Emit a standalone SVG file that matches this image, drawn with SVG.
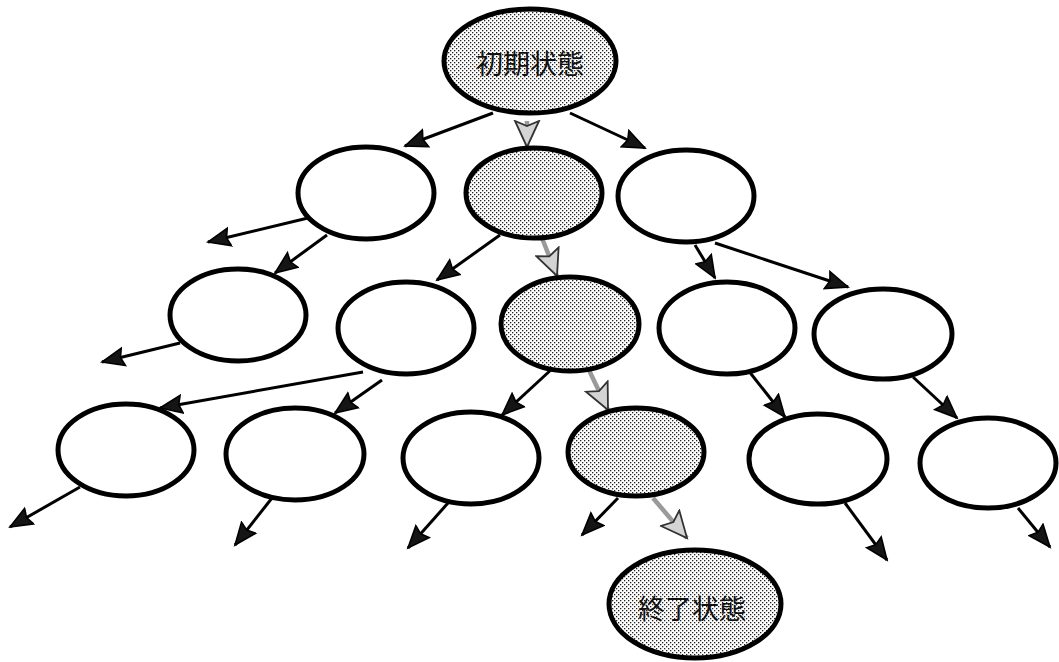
<svg xmlns="http://www.w3.org/2000/svg" width="1059" height="662" viewBox="0 0 1059 662">
  <defs>
    <!-- dotted screen used for the highlighted states -->
    <pattern id="dots" width="4" height="4" patternUnits="userSpaceOnUse">
      <rect width="4" height="4" fill="#ffffff"/>
      <rect x="0" y="0" width="1.3" height="1.3" fill="#222"/>
      <rect x="2" y="2" width="1.3" height="1.3" fill="#222"/>
    </pattern>
    <marker id="head" markerUnits="userSpaceOnUse" markerWidth="26" markerHeight="24" refX="23" refY="11" orient="auto">
      <path d="M1,2 L23,11 L1,20 L4,11 z" fill="#151515" stroke="#000" stroke-width="1.6"/>
    </marker>
    <marker id="headHi" markerUnits="userSpaceOnUse" markerWidth="30" markerHeight="30" refX="27" refY="14" orient="auto">
      <path d="M1,2 L27,14 L1,26 L6,14 z" fill="#d4d4d4" stroke="#333" stroke-width="1.8"/>
    </marker>
  </defs>
  <style>
    .state { fill: #ffffff; stroke: #000; stroke-width: 5; }
    .state.hi { fill: url(#dots); }
    .edge { stroke: #000; stroke-width: 3; fill: none; marker-end: url(#head); }
    .edge.hi { stroke: #9a9a9a; stroke-width: 4.5; marker-end: url(#headHi); }
    .label { font-family: "Noto Sans CJK JP", "Noto Sans CJK SC", sans-serif; font-size: 27px; fill: #111; text-anchor: middle; dominant-baseline: central; }
  </style>

  <rect width="1059" height="662" fill="#ffffff"/>

  <!-- connectors -->
  <g id="connectors">
    <line class="edge" x1="493" y1="113" x2="405" y2="146"/>
    <line class="edge" x1="570" y1="113" x2="645" y2="148"/>
    <line class="edge" x1="308" y1="218" x2="208" y2="242"/>
    <line class="edge" x1="327" y1="235" x2="275" y2="273"/>
    <line class="edge" x1="500" y1="235" x2="437" y2="280"/>
    <line class="edge" x1="695" y1="245" x2="715" y2="278"/>
    <line class="edge" x1="715" y1="243" x2="848" y2="287"/>
    <line class="edge" x1="180" y1="343" x2="102" y2="362"/>
    <line class="edge" x1="363" y1="372" x2="160" y2="408"/>
    <line class="edge" x1="382" y1="380" x2="335" y2="413"/>
    <line class="edge" x1="553" y1="368" x2="502" y2="415"/>
    <line class="edge" x1="748" y1="370" x2="785" y2="417"/>
    <line class="edge" x1="913" y1="377" x2="957" y2="418"/>
    <line class="edge" x1="80" y1="487" x2="10" y2="527"/>
    <line class="edge" x1="272" y1="498" x2="235" y2="545"/>
    <line class="edge" x1="448" y1="503" x2="408" y2="548"/>
    <line class="edge" x1="618" y1="498" x2="582" y2="535"/>
    <line class="edge" x1="845" y1="503" x2="887" y2="560"/>
    <line class="edge" x1="1018" y1="508" x2="1050" y2="547"/>
    <!-- solution path -->
    <line class="edge hi" x1="527" y1="121" x2="527" y2="147"/>
    <line class="edge hi" x1="542" y1="238" x2="557" y2="276"/>
    <line class="edge hi" x1="588" y1="368" x2="608" y2="410"/>
    <line class="edge hi" x1="653" y1="498" x2="687" y2="538"/>
  </g>

  <!-- states -->
  <g id="start">
    <ellipse class="state hi" cx="530" cy="61" rx="86" ry="52"/>
    <text class="label" x="530" y="62">初期状態</text>
  </g>
  <g id="s1a"><ellipse class="state" cx="366" cy="193" rx="68" ry="46"/></g>
  <g id="s1b"><ellipse class="state hi" cx="534" cy="193" rx="68" ry="45"/></g>
  <g id="s1c"><ellipse class="state" cx="686" cy="196" rx="68" ry="46"/></g>

  <g id="s2a"><ellipse class="state" cx="238" cy="315" rx="68" ry="46"/></g>
  <g id="s2b"><ellipse class="state" cx="406" cy="328" rx="68" ry="46"/></g>
  <g id="s2c"><ellipse class="state hi" cx="570" cy="324" rx="69" ry="47"/></g>
  <g id="s2d"><ellipse class="state" cx="727" cy="328" rx="68" ry="46"/></g>
  <g id="s2e"><ellipse class="state" cx="883" cy="334" rx="69" ry="45"/></g>

  <g id="s3a"><ellipse class="state" cx="126" cy="450" rx="68" ry="46"/></g>
  <g id="s3b"><ellipse class="state" cx="295" cy="454" rx="69" ry="46"/></g>
  <g id="s3c"><ellipse class="state" cx="471" cy="458" rx="68" ry="46"/></g>
  <g id="s3d"><ellipse class="state hi" cx="636" cy="452" rx="68" ry="44"/></g>
  <g id="s3e"><ellipse class="state" cx="818" cy="459" rx="69" ry="45"/></g>
  <g id="s3f"><ellipse class="state" cx="988" cy="463" rx="68" ry="45"/></g>

  <g id="goal">
    <ellipse class="state hi" cx="695" cy="604" rx="86" ry="54"/>
    <text class="label" x="692" y="607">終了状態</text>
  </g>
</svg>
